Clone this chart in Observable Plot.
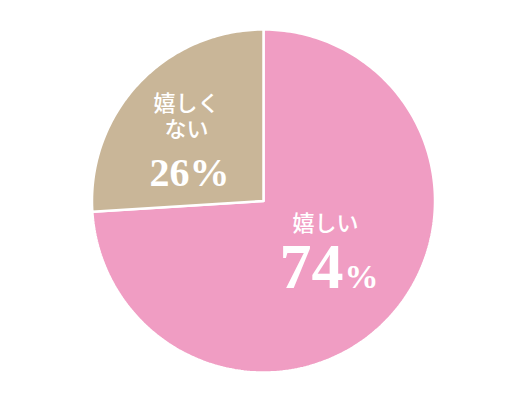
<!DOCTYPE html>
<html>
<head>
<meta charset="utf-8">
<script src="https://cdn.jsdelivr.net/npm/d3@7"></script>
<script src="https://cdn.jsdelivr.net/npm/@observablehq/plot@0.6"></script>
<style>
  html, body { margin: 0; padding: 0; background: #fff; }
  #chart svg { display: block; }
</style>
</head>
<body>
<div id="chart"></div>
<script>
// ---- data ----
const categories = ["嬉しい", "嬉しくない"];
const values = [74, 26];
const labels = ["嬉しい", "嬉しく\nない"];
const colors = ["#F09DC3", "#C9B698"];

// ---- layout ----
const W = 519, H = 400;
const cx = 263, cy = 200.5, R = 171.5; // pixel centre and radius

const pie = d3.pie().sort(null).value(d => d.value)(
  categories.map((c, i) => ({ category: c, value: values[i], color: colors[i] }))
);

// polygon points for each slice in unit-radius data space (y up)
const slicePts = pie.map(s => {
  const pts = [{ x: 0, y: 0, key: s.data.category }];
  const n = Math.max(2, Math.ceil((s.endAngle - s.startAngle) / (Math.PI * 2) * 360));
  for (let k = 0; k <= n; k++) {
    const a = s.startAngle + (s.endAngle - s.startAngle) * k / n;
    pts.push({ x: Math.sin(a), y: Math.cos(a), key: s.data.category });
  }
  pts.push({ x: 0, y: 0, key: s.data.category });
  return pts;
});

const u = R; // px per data unit
const px = p => (p - cx) / u;
const py = p => (cy - p) / u;

// label placement (pixel positions, converted to data units)
const pinkName = [{ x: px(325), y: py(230), t: labels[0] }];
const pinkNum = [{ x: px(343), y: py(287), t: String(values[0]) }];
const pinkPct = [{ x: px(344), y: py(287), t: "%" }];
const tanName = [{ x: px(186), y: py(136), t: labels[1] }];
const tanNum = [{ x: px(189), y: py(185), t: values[1] + "%" }];

const jp = "'Noto Sans CJK JP', 'Noto Sans', sans-serif";
const serif = "'Liberation Serif', 'DejaVu Serif', serif";

const chart = Plot.plot({
  width: W,
  height: H,
  margin: 0,
  x: { type: "linear", domain: [px(0), px(W)], range: [0, W], axis: null },
  y: { type: "linear", domain: [py(H), py(0)], range: [H, 0], axis: null },
  marks: [
    ...slicePts.map((pts, i) =>
      Plot.line(pts, { x: "x", y: "y", fill: colors[i], stroke: "#fff", strokeWidth: 2.5, strokeLinejoin: "miter" })
    ),
    Plot.text(pinkName, { x: "x", y: "y", text: "t", fill: "#fff", fontSize: 22, fontWeight: 500, fontFamily: jp, textAnchor: "middle", lineAnchor: "bottom" }),
    Plot.text(pinkNum, { x: "x", y: "y", text: "t", fill: "#fff", fontSize: 64, fontWeight: "bold", fontFamily: serif, textAnchor: "end", lineAnchor: "bottom" }),
    Plot.text(pinkPct, { x: "x", y: "y", text: "t", fill: "#fff", fontSize: 34, fontWeight: "bold", fontFamily: serif, textAnchor: "start", lineAnchor: "bottom" }),
    Plot.text(tanName, { x: "x", y: "y", text: "t", fill: "#fff", fontSize: 22, fontWeight: 500, fontFamily: jp, textAnchor: "middle", lineAnchor: "bottom", lineHeight: 1.15 }),
    Plot.text(tanNum, { x: "x", y: "y", text: "t", fill: "#fff", fontSize: 40, fontWeight: "bold", fontFamily: serif, textAnchor: "middle", lineAnchor: "bottom" })
  ]
});
document.getElementById("chart").appendChild(chart);
</script>
</body>
</html>
